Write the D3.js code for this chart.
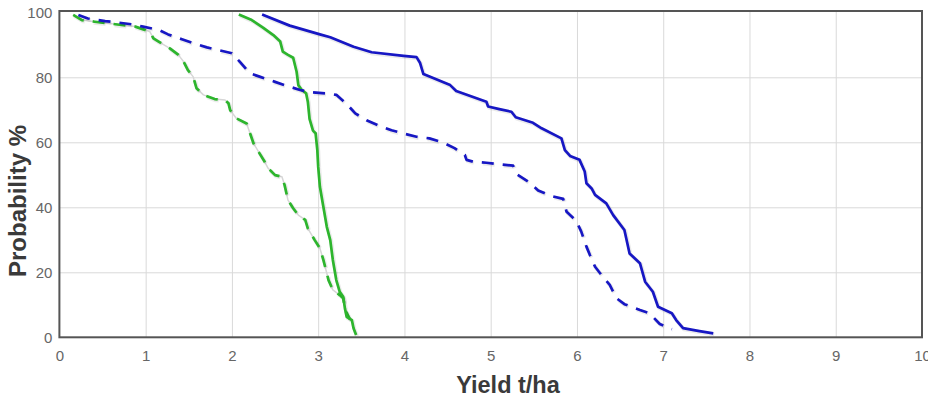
<!DOCTYPE html>
<html>
<head>
<meta charset="utf-8">
<script src="https://cdn.jsdelivr.net/npm/d3@7"></script>
<style>
  html, body { margin: 0; padding: 0; background: #fff; }
  svg { display: block; }
</style>
</head>
<body>
<svg id="chart" width="928" height="399"></svg>
<script>
// ---- data ----
const xTicks = [0, 1, 2, 3, 4, 5, 6, 7, 8, 9, 10];
const yTicks = [0, 20, 40, 60, 80, 100];
const xTitle = "Yield t/ha";
const yTitle = "Probability %";

const blueSolidYield = [2.35,2.67,3.02,3.14,3.41,3.62,3.99,4.14,4.18,4.22,4.53,4.60,4.95,4.97,5.10,5.24,5.29,5.49,5.59,5.82,5.86,5.92,6.03,6.09,6.11,6.17,6.21,6.34,6.42,6.55,6.61,6.73,6.79,6.88,6.94,7.10,7.15,7.23,7.42,7.58];
const blueSolidProb  = [99.3,95.9,93.2,92.3,89.4,87.7,86.6,86.2,84.5,81.0,77.6,75.8,72.5,71.0,70.2,69.4,67.7,66.0,64.3,61.2,57.6,55.8,54.6,51.0,47.4,45.8,43.8,41.2,37.6,33.0,25.8,22.8,17.1,14.0,9.4,7.4,5.3,2.8,1.9,1.2];

const blueDashYield = [0.22,0.33,0.53,0.66,0.84,0.97,1.15,1.26,1.42,1.55,1.71,1.84,2.00,2.09,2.21,2.32,2.50,2.61,2.79,2.92,3.14,3.21,3.33,3.43,3.56,3.70,3.85,3.99,4.14,4.29,4.45,4.58,4.70,4.72,4.80,4.95,5.11,5.26,5.30,5.45,5.55,5.70,5.84,5.88,5.99,6.05,6.11,6.15,6.21,6.30,6.38,6.46,6.55,6.73,6.84,6.96,7.10];
const blueDashProb  = [99.2,98.1,97.3,96.9,96.3,95.6,94.6,93.2,91.7,90.5,89.2,88.4,87.4,84.8,81.2,80.2,78.6,77.6,76.1,75.4,74.9,74.6,71.8,68.9,66.8,65.2,63.7,62.7,61.7,61.2,59.9,58.2,56.1,54.6,54.0,53.7,53.2,52.8,50.2,47.6,45.2,43.5,42.6,38.6,35.9,32.5,27.9,25.3,21.7,18.6,16.1,12.0,10.2,8.4,7.4,4.1,2.5];

const greenSolidYield = [2.08,2.23,2.36,2.48,2.56,2.59,2.65,2.71,2.75,2.77,2.81,2.86,2.88,2.90,2.94,2.97,2.99,3.00,3.02,3.06,3.10,3.14,3.17,3.21,3.25,3.29,3.31,3.33,3.39,3.41,3.44];
const greenSolidProb  = [99.3,97.6,95.3,93.0,91.0,87.9,86.9,86.0,81.7,77.6,76.1,75.1,72.5,67.2,63.6,62.8,57.6,52.5,46.3,40.2,34.0,29.9,23.8,17.6,14.0,12.5,8.9,6.3,5.3,2.8,0.7];

const greenDashYield = [0.16,0.26,0.41,0.57,0.72,0.88,0.99,1.05,1.09,1.15,1.28,1.38,1.44,1.49,1.55,1.59,1.67,1.80,1.92,1.96,1.98,2.05,2.17,2.21,2.25,2.32,2.38,2.42,2.50,2.58,2.61,2.65,2.71,2.77,2.85,2.88,2.96,3.02,3.06,3.10,3.12,3.17,3.25,3.29,3.32,3.37];
const greenDashProb  = [99.2,97.6,97.1,96.6,96.1,95.6,94.6,94.0,92.0,91.0,88.9,86.9,84.8,82.2,80.2,76.6,74.6,73.3,73.0,72.0,69.9,67.4,65.8,62.8,59.7,56.6,54.0,52.0,49.9,49.4,46.9,42.2,39.7,37.6,36.1,33.5,29.9,27.4,23.8,19.7,17.6,14.6,13.0,12.0,8.0,5.5];

// ---- drawing ----
const svg = d3.select("#chart");
const x = d3.scaleLinear().domain([0, 10]).range([59.4, 922]);
const y = d3.scaleLinear().domain([0, 100]).range([337.3, 12.3]);

const FONT = "'Liberation Sans', Arial, Helvetica, sans-serif";

// gridlines
svg.append("g")
  .attr("transform", "translate(0,337.3)")
  .call(d3.axisBottom(x).tickValues(xTicks.slice(1, -1)).tickSize(-326).tickFormat(""))
  .call(g => g.select(".domain").remove())
  .call(g => g.selectAll("line").attr("stroke", "#d9d9d9").attr("stroke-width", 1));
svg.append("g")
  .attr("transform", "translate(59.4,0)")
  .call(d3.axisLeft(y).tickValues(yTicks.slice(1, -1)).tickSize(-863).tickFormat(""))
  .call(g => g.select(".domain").remove())
  .call(g => g.selectAll("line").attr("stroke", "#d9d9d9").attr("stroke-width", 1));

// tick labels via axes
svg.append("g")
  .attr("transform", "translate(0,337.3)")
  .call(d3.axisBottom(x).tickValues(xTicks).tickSize(0).tickPadding(13).tickFormat(d3.format("d")))
  .call(g => g.select(".domain").remove())
  .call(g => g.selectAll("text").attr("fill", "#666").style("font-family", FONT).style("font-size", "15px"));
svg.append("g")
  .attr("transform", "translate(59.4,0)")
  .call(d3.axisLeft(y).tickValues(yTicks).tickSize(0).tickPadding(7).tickFormat(d3.format("d")))
  .call(g => g.select(".domain").remove())
  .call(g => g.selectAll("text").attr("fill", "#666").style("font-family", FONT).style("font-size", "15px"));

// lines
const line = d3.line().x(d => x(d[0])).y(d => y(d[1]));
const zip = (a, b) => a.map((v, i) => [v, b[i]]);

const DASH = "12,9";
const series = [
  { pts: zip(greenDashYield, greenDashProb), color: "#2db52d", dash: DASH, under: "#d6d6d6" },
  { pts: zip(greenSolidYield, greenSolidProb), color: "#2db52d", dash: null },
  { pts: zip(blueDashYield, blueDashProb), color: "#1717c4", dash: DASH },
  { pts: zip(blueSolidYield, blueSolidProb), color: "#1717c4", dash: null }
];

const gLines = svg.append("g");
series.forEach(s => {
  if (s.under) {
    gLines.append("path").datum(s.pts)
      .attr("d", line)
      .attr("fill", "none")
      .attr("stroke", s.under)
      .attr("stroke-width", 1.5)
      .attr("stroke-linejoin", "round");
  }
  // soft shadow
  gLines.append("path").datum(s.pts)
    .attr("d", line)
    .attr("transform", "translate(1,1.2)")
    .attr("fill", "none")
    .attr("stroke", "rgba(0,0,0,0.08)")
    .attr("stroke-width", 4)
    .attr("stroke-linejoin", "round")
    .attr("stroke-dasharray", s.dash);
  gLines.append("path").datum(s.pts)
    .attr("d", line)
    .attr("fill", "none")
    .attr("stroke", s.color)
    .attr("stroke-width", 2.7)
    .attr("stroke-linejoin", "round")
    .attr("stroke-dasharray", s.dash);
});

// plot frame
svg.append("rect")
  .attr("x", 59.4).attr("y", 11)
  .attr("width", 922 - 59.4).attr("height", 337.3 - 11)
  .attr("fill", "none")
  .attr("stroke", "#555")
  .attr("stroke-width", 2);

// axis titles
svg.append("text")
  .attr("x", 508).attr("y", 393)
  .attr("text-anchor", "middle")
  .attr("fill", "#3a3a3a")
  .style("font-family", FONT).style("font-size", "23.5px").style("font-weight", "bold")
  .text(xTitle);
svg.append("text")
  .attr("transform", "translate(26,201) rotate(-90)")
  .attr("text-anchor", "middle")
  .attr("fill", "#3a3a3a")
  .style("font-family", FONT).style("font-size", "24px").style("font-weight", "bold")
  .text(yTitle);
</script>
</body>
</html>
